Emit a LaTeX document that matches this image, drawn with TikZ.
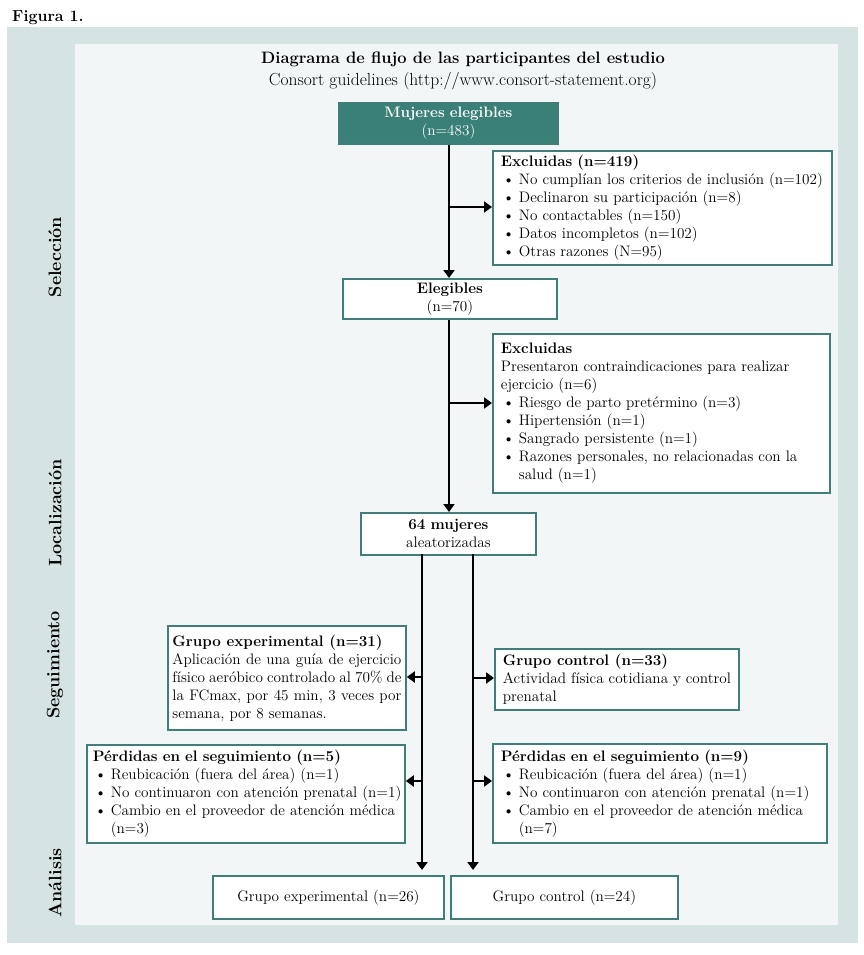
\documentclass[tikz,border=0pt]{standalone}
\usepackage{fontspec}
\newfontfamily\bodyfont{lmroman12-regular.otf}[BoldFont=lmroman12-bold.otf]
\usetikzlibrary{arrows.meta}
\definecolor{bgout}{HTML}{D6E3E3}
\definecolor{bgin}{HTML}{F2F6F7}
\definecolor{tealfill}{HTML}{3A8077}
\definecolor{tealline}{HTML}{3F7F77}
\newcommand\fs{\bodyfont\fontsize{15.2}{18}\selectfont}
\newcommand\bl[1]{\makebox[18pt][l]{\hspace{2pt}\textbullet}\mbox{#1}}
\newcommand\ind{\hspace*{18pt}}
\tikzset{
  box/.style={draw=tealline, line width=1.8pt, fill=white, anchor=north west,
    inner xsep=8pt, inner ysep=2pt, font=\fs, align=left},
  arr/.style={line width=2.6pt, -{Triangle[width=11pt,length=8pt]}},
  phase/.style={rotate=90, font=\fontsize{18}{20}\selectfont\bfseries},
}
\begin{document}
\begin{tikzpicture}[x=1pt,y=-1pt]
\useasboundingbox (0,0) rectangle (863,955);
\fill[bgout] (7,27) rectangle (858,943);
\fill[bgin] (75,44) rectangle (838,925);
\node[anchor=base west, font=\fontsize{16}{18}\selectfont\bfseries, inner sep=0] (fig) at (12,22) {Figura 1.};
\node[font=\fontsize{16.5}{18}\selectfont\bfseries, inner sep=0] (title) at (463,59) {Diagrama de flujo de las participantes del estudio};
\node[font=\fontsize{17.5}{18}\selectfont, inner sep=0] (sub) at (463,81) {Consort guidelines (http://www.consort-statement.org)};
% phases
\node[phase] (ph1) at (55,257) {Selección};
\node[phase] (ph2) at (55,513) {Localización};
\node[phase] (ph3) at (55,665) {Seguimiento};
\node[phase] (ph4) at (55,883) {Análisis};
% boxes
\node[box, fill=tealfill, text=white, minimum width=219pt, minimum height=41pt, text width=203pt, align=center] (muj) at (338,102)
  {\textbf{Mujeres elegibles}\\(n=483)};
\node[box, minimum width=339pt, minimum height=114pt, text width=323pt] (exc1) at (492,150)
  {\textbf{Excluidas (n=419)}\\
   \bl{No cumplían los criterios de inclusión (n=102)}\\
   \bl{Declinaron su participación (n=8)}\\
   \bl{No contactables (n=150)}\\
   \bl{Datos incompletos (n=102)}\\
   \bl{Otras razones (N=95)}};
\node[box, minimum width=214pt, minimum height=40pt, text width=198pt, align=center] (eleg) at (342,278)
  {\textbf{Elegibles}\\(n=70)};
\node[box, minimum width=337pt, minimum height=159pt, text width=321pt] (exc2) at (492,333)
  {\textbf{Excluidas}\\
   \mbox{Presentaron contraindicaciones para realizar}\\
   ejercicio (n=6)\\
   \bl{Riesgo de parto pretérmino (n=3)}\\
   \bl{Hipertensión (n=1)}\\
   \bl{Sangrado persistente (n=1)}\\
   \bl{Razones personales, no relacionadas con la}\\
   \ind salud (n=1)};
\node[box, minimum width=175pt, minimum height=42pt, text width=159pt, align=center] (rand) at (360,512)
  {\textbf{64 mujeres}\\aleatorizadas};
\node[box, inner xsep=4.5pt, minimum width=238pt, minimum height=104pt, text width=229pt, align=justify] (gexp) at (167,625)
  {\textbf{Grupo experimental (n=31)}\\
   Aplicación de una guía de ejercicio\linebreak
   físico aeróbico controlado al 70\% de\linebreak
   la FCmax, por 45 min, 3 veces por\linebreak
   semana, por 8 semanas.};
\node[box, minimum width=244pt, minimum height=61pt, text width=228pt, align=justify] (gctl) at (494,648)
  {\textbf{Grupo control (n=33)}\\
   Actividad física cotidiana y control\linebreak
   prenatal};
\node[box, inner xsep=6pt, minimum width=318pt, minimum height=98pt, text width=306pt] (perd1) at (86,744)
  {\textbf{Pérdidas en el seguimiento (n=5)}\\
   \bl{Reubicación (fuera del área) (n=1)}\\
   \bl{No continuaron con atención prenatal (n=1)}\\
   \bl{Cambio en el proveedor de atención médica}\\
   \ind (n=3)};
\node[box, minimum width=334pt, minimum height=99pt, text width=318pt] (perd2) at (492,743)
  {\textbf{Pérdidas en el seguimiento (n=9)}\\
   \bl{Reubicación (fuera del área) (n=1)}\\
   \bl{No continuaron con atención prenatal (n=1)}\\
   \bl{Cambio en el proveedor de atención médica}\\
   \ind (n=7)};
\node[box, minimum width=231pt, minimum height=43pt, text width=215pt, align=center] (fexp) at (212,875)
  {Grupo experimental (n=26)};
\node[box, minimum width=227pt, minimum height=43pt, text width=211pt, align=center] (fctl) at (450,875)
  {Grupo control (n=24)};
% connectors
\coordinate (j1) at (449,207);
\coordinate (j2) at (449,403);
\coordinate (la) at (422,554);
\coordinate (ra) at (473,554);
\coordinate (lb) at (422,870);
\coordinate (rb) at (473,870);
\coordinate (l1) at (422,677);
\coordinate (l2) at (422,781);
\coordinate (r1) at (473,678);
\coordinate (r2) at (473,781);
\draw[arr] (muj.south -| j1) -- (eleg.north -| j1);
\draw[arr] (j1) -- (exc1.west |- j1);
\draw[arr] (eleg.south -| j2) -- (rand.north -| j2);
\draw[arr] (j2) -- (exc2.west |- j2);
\draw[arr] (la) -- (lb);
\draw[arr] (ra) -- (rb);
\draw[arr] (l1) -- (gexp.east |- l1);
\draw[arr] (l2) -- (perd1.east |- l2);
\draw[arr] (r1) -- (gctl.west |- r1);
\draw[arr] (r2) -- (perd2.west |- r2);
\end{tikzpicture}
\end{document}
